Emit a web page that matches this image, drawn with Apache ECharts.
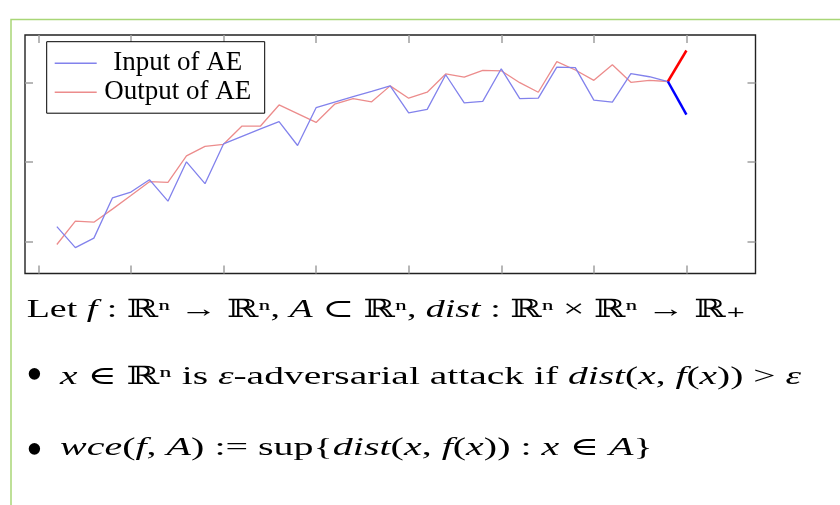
<!DOCTYPE html>
<html>
<head>
<meta charset="utf-8">
<script src="https://cdn.jsdelivr.net/npm/echarts@6/dist/echarts.min.js"></script>
<style>
html, body { margin: 0; padding: 0; background: #fff; }
#chart { width: 840px; height: 505px; }
</style>
</head>
<body>
<div id="chart"></div>
<script>
// step index of each sample
const steps = [1, 2, 3, 4, 5, 6, 7, 8, 9, 10, 11, 12, 13, 14, 15, 16, 17,
    18, 19, 20, 21, 22, 23, 24, 25, 26, 27, 28, 29, 30, 31, 32, 33, 34];
const inputAE = [1.9, -0.75, 0.45, 5.5, 6.25, 7.8, 5.1, 10.05, 7.3, 12.3, 13.25, 14.2,
    15.1, 12.1, 16.85, 17.55, 18.25, 18.9, 19.6, 16.2, 16.65, 21.0, 17.45, 17.65,
    21.75, 18.0, 18.05, 21.95, 21.9, 17.8, 17.55, 21.15, 20.75, 20.15];
const outputAE = [-0.35, 2.6, 2.45, 4.1, 5.8, 7.55, 7.45, 10.8, 12.0, 12.25, 14.55, 14.55,
    17.2, 16.1, 15.0, 17.3, 18.0, 17.6, 19.6, 18.05, 18.8, 21.1, 20.7, 21.55,
    21.5, 20.0, 18.8, 22.65, 21.6, 20.3, 22.25, 20.05, 20.3, 20.15];
// the last step, where input and output split apart
const attackSteps = [34, 35];
const attackOutput = [20.15, 24.05];
const attackInput = [20.15, 15.99];

// tick marks only, no labels in the picture
const xTickMin = 0, xTickMax = 35, xTickStep = 5;
const yTickMin = 0, yTickMax = 20, yTickStep = 10;

// text under the chart, [style, text] pieces, 'i' = italic
const line1 = [['', 'Let '], ['i', 'f'], ['', ' : ℝⁿ → ℝⁿ, '], ['i', 'A'], ['', ' ⊂ ℝⁿ, '],
    ['i', 'dist'], ['', ' : ℝⁿ × ℝⁿ → ℝ₊']];
const line2 = [['i', 'x'], ['', ' ∈ ℝⁿ is '], ['i', 'ε'], ['', '-adversarial attack if '],
    ['i', 'dist'], ['', '('], ['i', 'x'], ['', ', '], ['i', 'f'], ['', '('], ['i', 'x'],
    ['', ')) > '], ['i', 'ε']];
const line3 = [['i', 'wce'], ['', '('], ['i', 'f'], ['', ', '], ['i', 'A'], ['', ') := sup{'],
    ['i', 'dist'], ['', '('], ['i', 'x'], ['', ', '], ['i', 'f'], ['', '('], ['i', 'x'],
    ['', ')) : '], ['i', 'x'], ['', ' ∈ '], ['i', 'A'], ['', '}']];

function pairs(xs, ys) {
    return xs.map(function (x, i) { return [x, ys[i]]; });
}

function richLine(parts) {
    return parts.map(function (p) {
        return p[0] ? '{' + p[0] + '|' + p[1] + '}' : p[1];
    }).join('');
}

const serif = "'Liberation Serif', 'DejaVu Serif', serif";
const bodySize = 25;

// the slide text is stretched sideways, hence scaleX
function textItem(x, y, sx, parts) {
    return {
        type: 'text',
        x: x,
        y: y,
        scaleX: sx,
        silent: true,
        style: {
            text: richLine(parts),
            fontFamily: serif,
            fontSize: bodySize,
            fill: '#000',
            verticalAlign: 'top',
            rich: {
                i: { fontFamily: serif, fontSize: bodySize, fontStyle: 'italic', fill: '#000' }
            }
        }
    };
}

function bullet(y) {
    return {
        type: 'text', x: 34.5, y: y, silent: true,
        style: {
            text: '•', fontFamily: serif, fontSize: 48, fill: '#000',
            align: 'center', verticalAlign: 'middle'
        }
    };
}

const tickStyle = {
    show: true,
    inside: true,
    length: 8,
    lineStyle: { color: '#a0a0a0', width: 1.5 }
};

function tickAxis(grid, pos, min, max, step) {
    return {
        type: 'value',
        gridIndex: grid,
        position: pos,
        min: min,
        max: max,
        interval: step,
        axisLine: { show: false, onZero: false },
        axisLabel: { show: false },
        splitLine: { show: false },
        axisTick: tickStyle
    };
}

function hiddenAxis(grid, extra) {
    return Object.assign({ type: 'value', gridIndex: grid, show: false }, extra);
}

let chart = echarts.init(document.getElementById('chart'));

chart.setOption({
    animation: false,
    backgroundColor: '#fff',
    grid: [
        {
            show: true,
            left: 25,
            right: 84.5,
            top: 35,
            bottom: 231.5,
            borderColor: '#222',
            borderWidth: 1.4
        },
        // x ticks live from step 0 to step 35
        { left: 38.3, right: 153.3, top: 35, bottom: 231.5 },
        // y ticks live from 0 to 20
        { left: 25, right: 84.5, top: 82.3, bottom: 263.3 }
    ],
    xAxis: [
        hiddenAxis(0, { min: -0.72, max: 38.73 }),
        tickAxis(1, 'bottom', xTickMin, xTickMax, xTickStep),
        tickAxis(1, 'top', xTickMin, xTickMax, xTickStep),
        hiddenAxis(2, {})
    ],
    yAxis: [
        hiddenAxis(0, { min: -4, max: 26 }),
        hiddenAxis(1, {}),
        tickAxis(2, 'left', yTickMin, yTickMax, yTickStep),
        tickAxis(2, 'right', yTickMin, yTickMax, yTickStep)
    ],
    legend: {
        orient: 'vertical',
        left: 46.7,
        top: 41.7,
        data: ['Input of AE', 'Output of AE'],
        padding: [8, 11, 7.5, 8],
        itemGap: 2,
        itemWidth: 42,
        itemHeight: 1.5,
        icon: 'rect',
        borderColor: '#000',
        borderWidth: 1,
        backgroundColor: '#fff',
        formatter: function (name) { return '{t|' + name + '}'; },
        textStyle: {
            rich: {
                t: {
                    fontFamily: serif,
                    fontSize: 27,
                    color: '#000',
                    width: 152,
                    align: 'center',
                    lineHeight: 27
                }
            }
        }
    },
    series: [
        {
            name: 'Input of AE',
            type: 'line',
            data: pairs(steps, inputAE),
            symbol: 'none',
            lineStyle: { color: '#8282ec', width: 1.3 },
            itemStyle: { color: '#8282ec' },
            z: 3
        },
        {
            name: 'Output of AE',
            type: 'line',
            data: pairs(steps, outputAE),
            symbol: 'none',
            lineStyle: { color: '#ec8c8c', width: 1.3 },
            itemStyle: { color: '#ec8c8c' },
            z: 2
        },
        {
            name: 'attack output',
            type: 'line',
            data: pairs(attackSteps, attackOutput),
            symbol: 'none',
            lineStyle: { color: '#ff0000', width: 2.5 },
            z: 4
        },
        {
            name: 'attack input',
            type: 'line',
            data: pairs(attackSteps, attackInput),
            symbol: 'none',
            lineStyle: { color: '#0000ff', width: 2.5 },
            z: 4
        }
    ],
    graphic: [
        {
            type: 'polyline',
            shape: { points: [[11, 505], [11, 19.5], [840, 19.5]] },
            style: { stroke: '#a9d677', lineWidth: 1.5, fill: null },
            silent: true
        },
        textItem(26.7, 298, 1.517, line1),
        bullet(377),
        textItem(60, 365, 1.58, line2),
        bullet(452),
        textItem(60, 436, 1.6, line3)
    ]
});
</script>
</body>
</html>
